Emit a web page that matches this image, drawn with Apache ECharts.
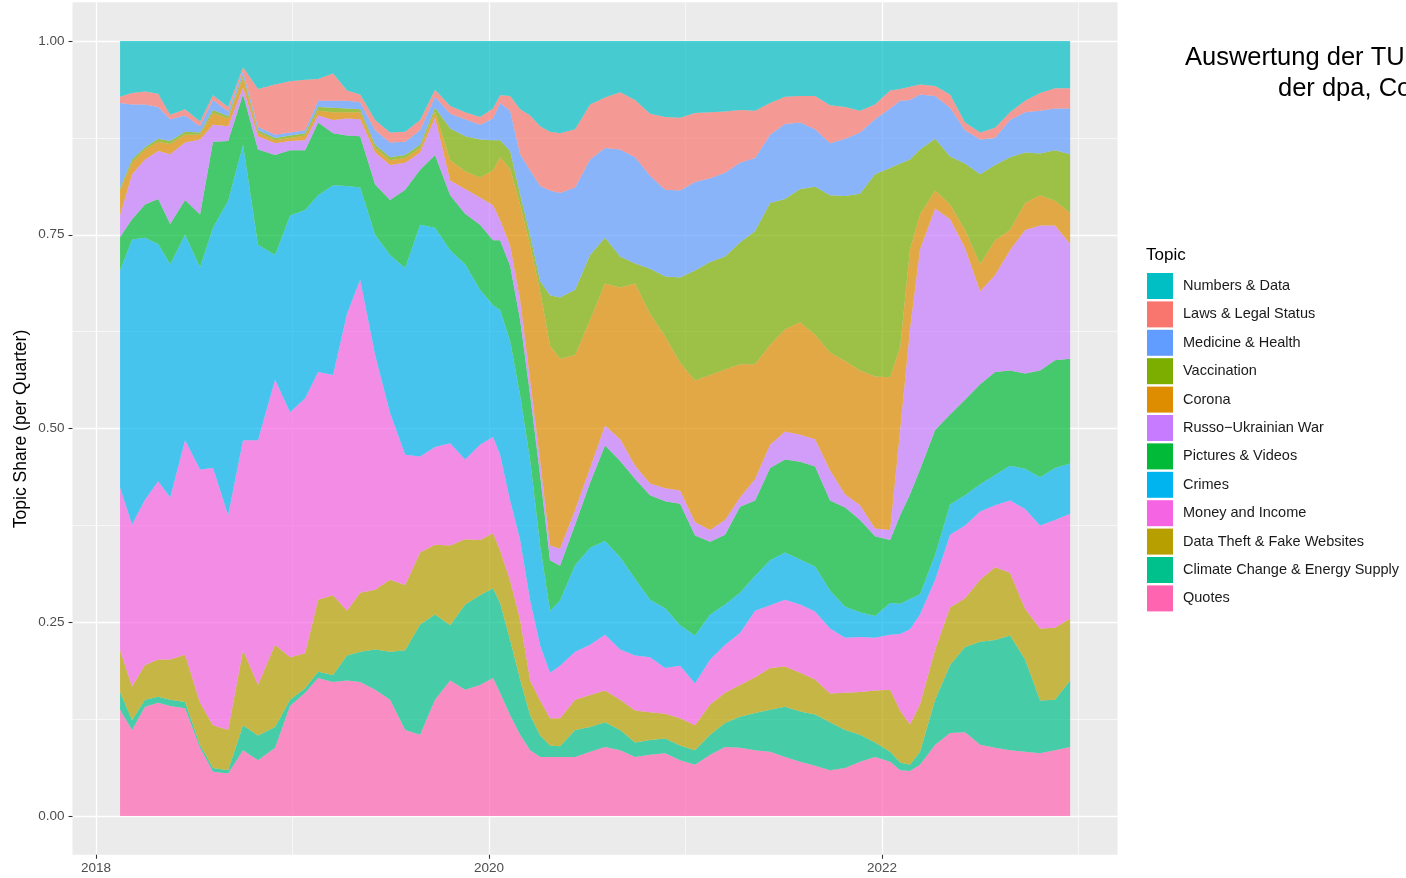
<!DOCTYPE html>
<html>
<head>
<meta charset="utf-8">
<script src="https://cdn.jsdelivr.net/npm/echarts@6.0.0/dist/echarts.min.js"></script>
<style>
html,body{margin:0;padding:0;background:#ffffff;}
#chart{width:1406px;height:878px;}
</style>
</head>
<body>
<div id="chart"></div>
<script>
// ---- data (decimal years, topic shares per quarter) ----
const dates = [2018.122,2018.183,2018.249,2018.316,2018.377,2018.453,2018.529,2018.595,2018.672,2018.748,2018.824,2018.911,2018.987,
2019.064,2019.130,2019.206,2019.277,2019.344,2019.420,2019.496,2019.573,2019.649,2019.725,2019.802,2019.878,2019.954,
2020.020,2020.056,2020.107,2020.158,2020.209,2020.260,2020.310,2020.361,2020.438,2020.514,2020.590,2020.667,2020.743,2020.819,2020.896,2020.972,
2021.048,2021.125,2021.201,2021.277,2021.354,2021.430,2021.506,2021.583,2021.659,2021.735,2021.812,2021.888,2021.964,
2022.041,2022.092,2022.142,2022.193,2022.270,2022.346,2022.422,2022.499,2022.575,2022.651,2022.728,2022.804,2022.880,2022.957];

const numbersData = [.072,.067,.065,.068,.095,.088,.104,.070,.085,.034,.062,.056,.052,.050,.049,.042,.064,.069,.102,.118,.117,.102,.063,.084,.092,.098,.087,.070,.071,.088,.096,.110,.117,.119,.114,.082,.073,.066,.076,.094,.098,.099,.093,.092,.091,.089,.090,.080,.072,.071,.071,.083,.085,.090,.082,.064,.062,.059,.056,.058,.069,.105,.118,.112,.092,.077,.067,.061,.061];
const lawsData = [.008,.015,.017,.017,.006,.008,.006,.006,.006,.005,.049,.065,.066,.065,.028,.035,.013,.010,.013,.013,.013,.013,.009,.010,.009,.010,.013,.010,.019,.058,.071,.077,.076,.077,.075,.071,.065,.074,.074,.080,.094,.094,.089,.085,.079,.068,.061,.041,.035,.034,.043,.049,.041,.028,.019,.023,.015,.017,.013,.013,.017,.010,.009,.013,.010,.015,.023,.026,.026];
const medicineData = [.110,.071,.055,.041,.028,.021,.008,.013,.006,.005,.004,.004,.004,.004,.008,.009,.010,.009,.019,.019,.017,.019,.014,.019,.022,.019,.028,.048,.052,.052,.084,.123,.135,.135,.132,.123,.116,.138,.137,.120,.112,.112,.114,.108,.108,.103,.094,.088,.097,.086,.074,.067,.074,.079,.071,.077,.081,.077,.071,.055,.063,.043,.045,.035,.048,.052,.055,.054,.059];
const vaccinationData = [.003,.004,.003,.004,.004,.004,.003,.004,.003,.003,.003,.003,.003,.003,.005,.006,.005,.004,.004,.004,.004,.004,.005,.041,.045,.049,.039,.022,.023,.013,.013,.013,.065,.079,.084,.084,.059,.040,.026,.058,.077,.110,.142,.146,.146,.157,.172,.183,.168,.172,.191,.203,.213,.228,.261,.270,.237,.116,.084,.067,.062,.086,.116,.097,.094,.065,.054,.065,.076];
const coronaData = [.032,.015,.013,.012,.013,.010,.006,.015,.010,.013,.005,.004,.004,.006,.006,.010,.008,.009,.006,.006,.006,.006,.008,.026,.023,.026,.045,.081,.099,.123,.174,.219,.258,.245,.200,.191,.183,.196,.235,.219,.196,.165,.183,.200,.194,.172,.148,.129,.132,.145,.135,.152,.172,.174,.196,.197,.107,.103,.045,.023,.019,.023,.035,.045,.026,.035,.039,.032,.040];
const russoData = [.028,.058,.058,.062,.090,.074,.097,.022,.019,.009,.017,.015,.012,.013,.009,.017,.022,.022,.041,.045,.035,.022,.048,.019,.032,.035,.045,.026,.026,.026,.019,.019,.019,.022,.019,.019,.026,.028,.017,.015,.017,.017,.017,.015,.019,.012,.028,.030,.036,.035,.035,.039,.017,.019,.010,.013,.110,.213,.284,.286,.252,.196,.120,.125,.155,.185,.187,.174,.148];
const picturesData = [.043,.026,.043,.058,.052,.045,.068,.111,.077,.065,.123,.129,.084,.077,.094,.067,.065,.066,.065,.071,.101,.071,.094,.071,.065,.084,.084,.090,.097,.097,.084,.090,.065,.045,.052,.084,.123,.124,.129,.135,.138,.157,.129,.094,.090,.111,.097,.119,.120,.126,.129,.116,.128,.119,.103,.081,.114,.135,.161,.161,.116,.123,.129,.133,.123,.123,.138,.139,.135];
const crimesData = [.280,.368,.338,.306,.301,.265,.261,.310,.406,.381,.252,.161,.254,.243,.228,.245,.165,.119,.155,.204,.241,.299,.283,.249,.252,.200,.170,.187,.206,.187,.181,.129,.080,.084,.112,.125,.121,.119,.099,.074,.077,.052,.062,.058,.052,.052,.045,.058,.061,.058,.058,.049,.040,.032,.028,.041,.039,.039,.026,.032,.039,.039,.035,.039,.045,.052,.062,.067,.065];
const moneyData = [.210,.209,.213,.230,.209,.277,.301,.332,.277,.271,.316,.342,.316,.329,.294,.284,.383,.404,.303,.215,.168,.124,.126,.132,.103,.123,.124,.123,.103,.103,.103,.071,.059,.068,.062,.065,.072,.065,.071,.071,.059,.068,.054,.058,.062,.067,.086,.081,.086,.088,.088,.084,.071,.071,.068,.071,.099,.123,.116,.090,.094,.094,.088,.080,.093,.129,.133,.139,.135];
const dataTheftData = [.054,.043,.045,.048,.052,.061,.054,.055,.052,.097,.065,.106,.055,.045,.093,.103,.058,.076,.077,.093,.084,.093,.090,.103,.084,.071,.071,.068,.077,.077,.045,.045,.035,.036,.039,.041,.041,.039,.041,.036,.032,.035,.032,.039,.039,.041,.046,.054,.052,.050,.045,.037,.048,.055,.067,.080,.067,.052,.061,.065,.074,.063,.080,.094,.081,.065,.093,.093,.080];
const climateData = [.023,.013,.009,.008,.008,.008,.004,.005,.004,.032,.032,.027,.008,.006,.008,.009,.032,.039,.052,.062,.103,.142,.110,.071,.110,.116,.116,.116,.097,.071,.045,.028,.015,.014,.035,.032,.032,.026,.019,.019,.019,.019,.019,.026,.031,.040,.048,.054,.065,.065,.066,.062,.049,.035,.019,.013,.010,.008,.017,.058,.088,.110,.133,.139,.148,.119,.068,.065,.086];
const quotesData = [.137,.111,.141,.146,.142,.139,.088,.057,.055,.085,.072,.088,.142,.159,.178,.173,.175,.173,.163,.150,.111,.105,.150,.175,.163,.169,.178,.159,.130,.105,.085,.076,.076,.076,.076,.083,.089,.085,.076,.079,.081,.072,.066,.079,.089,.088,.085,.083,.076,.070,.065,.059,.062,.070,.076,.070,.059,.058,.066,.092,.107,.108,.092,.088,.085,.083,.081,.085,.089];

// legend order (top of stack first)
const topicNames = ['Numbers & Data','Laws & Legal Status','Medicine & Health','Vaccination','Corona','Russo\u2212Ukrainian War','Pictures & Videos','Crimes','Money and Income','Data Theft & Fake Websites','Climate Change & Energy Supply','Quotes'];
const topicColors = ['#00BFC4','#F8766D','#619CFF','#7CAE00','#DE8C00','#C77CFF','#00BA38','#00B4F0','#F564E3','#B79F00','#00C08B','#FF64B0'];
const topicValues = [numbersData,lawsData,medicineData,vaccinationData,coronaData,russoData,picturesData,crimesData,moneyData,dataTheftData,climateData,quotesData];

const xMajorTicks = [2018, 2020, 2022];
const xMinorTicks = [2019, 2021, 2023];
const yMajorTicks = [0, 0.25, 0.5, 0.75, 1];
const yMinorTicks = [0.125, 0.375, 0.625, 0.875];
const xRange = [2017.880, 2023.198];
const yRange = [-0.05, 1.05];

const FONT = "'Liberation Sans', Arial, sans-serif";

// ---- chart ----
const chart = echarts.init(document.getElementById('chart'), null, {renderer: 'canvas'});

const series = [];
for (let k = topicNames.length - 1; k >= 0; k--) {
  const vals = topicValues[k];
  series.push({
    type: 'line',
    name: topicNames[k],
    stack: 'share',
    symbol: 'none',
    showSymbol: false,
    smooth: false,
    xAxisIndex: 0,
    yAxisIndex: 0,
    // share first so that the stack is computed on the share (y) dimension
    data: dates.map((d, i) => [vals[i], d]),
    encode: {x: 1, y: 0},
    lineStyle: {width: 0, opacity: 0},
    itemStyle: {color: topicColors[k]},
    areaStyle: {color: topicColors[k], opacity: 0.7},
    emphasis: {disabled: true},
    silent: true
  });
}

const xBase = {type: 'value', min: xRange[0], max: xRange[1], gridIndex: 0};
const yBase = {type: 'value', min: yRange[0], max: yRange[1], gridIndex: 0};

chart.setOption({
  animation: false,
  backgroundColor: '#ffffff',
  textStyle: {fontFamily: FONT},
  grid: {left: 72.5, right: 288.5, top: 2.25, bottom: 23.25, show: true, backgroundColor: '#EBEBEB', borderWidth: 0, containLabel: false},
  xAxis: [
    Object.assign({}, xBase, {
      position: 'bottom',
      axisLine: {show: false, onZero: false},
      axisTick: {show: true, length: 4, lineStyle: {color: '#333333', width: 1.1}, customValues: xMajorTicks},
      axisLabel: {show: true, customValues: xMajorTicks, formatter: v => String(Math.round(v)), color: '#4D4D4D', fontSize: 13.5, margin: 7, fontFamily: FONT},
      splitLine: {show: true, lineStyle: {color: '#FFFFFF', width: 1.3}}
    }),
    Object.assign({}, xBase, {
      position: 'bottom',
      axisLine: {show: false, onZero: false},
      axisTick: {show: false, customValues: xMinorTicks},
      axisLabel: {show: false, customValues: xMinorTicks},
      splitLine: {show: true, lineStyle: {color: '#FFFFFF', width: 0.6}}
    })
  ],
  yAxis: [
    Object.assign({}, yBase, {
      position: 'left',
      axisLine: {show: false, onZero: false},
      axisTick: {show: true, length: 4, lineStyle: {color: '#333333', width: 1.1}, customValues: yMajorTicks},
      axisLabel: {show: true, customValues: yMajorTicks, formatter: v => v.toFixed(2), color: '#4D4D4D', fontSize: 13.5, margin: 8, fontFamily: FONT},
      splitLine: {show: true, lineStyle: {color: '#FFFFFF', width: 1.3}}
    }),
    Object.assign({}, yBase, {
      position: 'left',
      axisLine: {show: false, onZero: false},
      axisTick: {show: false, customValues: yMinorTicks},
      axisLabel: {show: false, customValues: yMinorTicks},
      splitLine: {show: true, lineStyle: {color: '#FFFFFF', width: 0.6}}
    })
  ],
  legend: {
    orient: 'vertical',
    left: 1147,
    top: 273,
    padding: 0,
    itemWidth: 26,
    itemHeight: 26,
    itemGap: 2.4,
    icon: 'rect',
    selectedMode: false,
    data: topicNames,
    itemStyle: {borderWidth: 0},
    textStyle: {fontSize: 14.5, color: '#1A1A1A', fontFamily: FONT, padding: [0, 0, 0, 5]}
  },
  graphic: [
    {type: 'text', x: 21, y: 429, rotation: Math.PI / 2, silent: true,
     style: {text: 'Topic Share (per Quarter)', font: "17.5px 'Liberation Sans', Arial, sans-serif", fill: '#000000', textAlign: 'center', textVerticalAlign: 'middle'}},
    {type: 'text', x: 1146, y: 255, silent: true,
     style: {text: 'Topic', font: "17px 'Liberation Sans', Arial, sans-serif", fill: '#000000', textAlign: 'left', textVerticalAlign: 'middle'}},
    {type: 'text', x: 1185, y: 58, silent: true,
     style: {text: 'Auswertung der TU Dortmund', font: "25.5px 'Liberation Sans', Arial, sans-serif", fill: '#000000', textAlign: 'left', textVerticalAlign: 'middle'}},
    {type: 'text', x: 1278, y: 89, silent: true,
     style: {text: 'der dpa, Correctiv', font: "25.5px 'Liberation Sans', Arial, sans-serif", fill: '#000000', textAlign: 'left', textVerticalAlign: 'middle'}}
  ],
  series: series
});
</script>
</body>
</html>
